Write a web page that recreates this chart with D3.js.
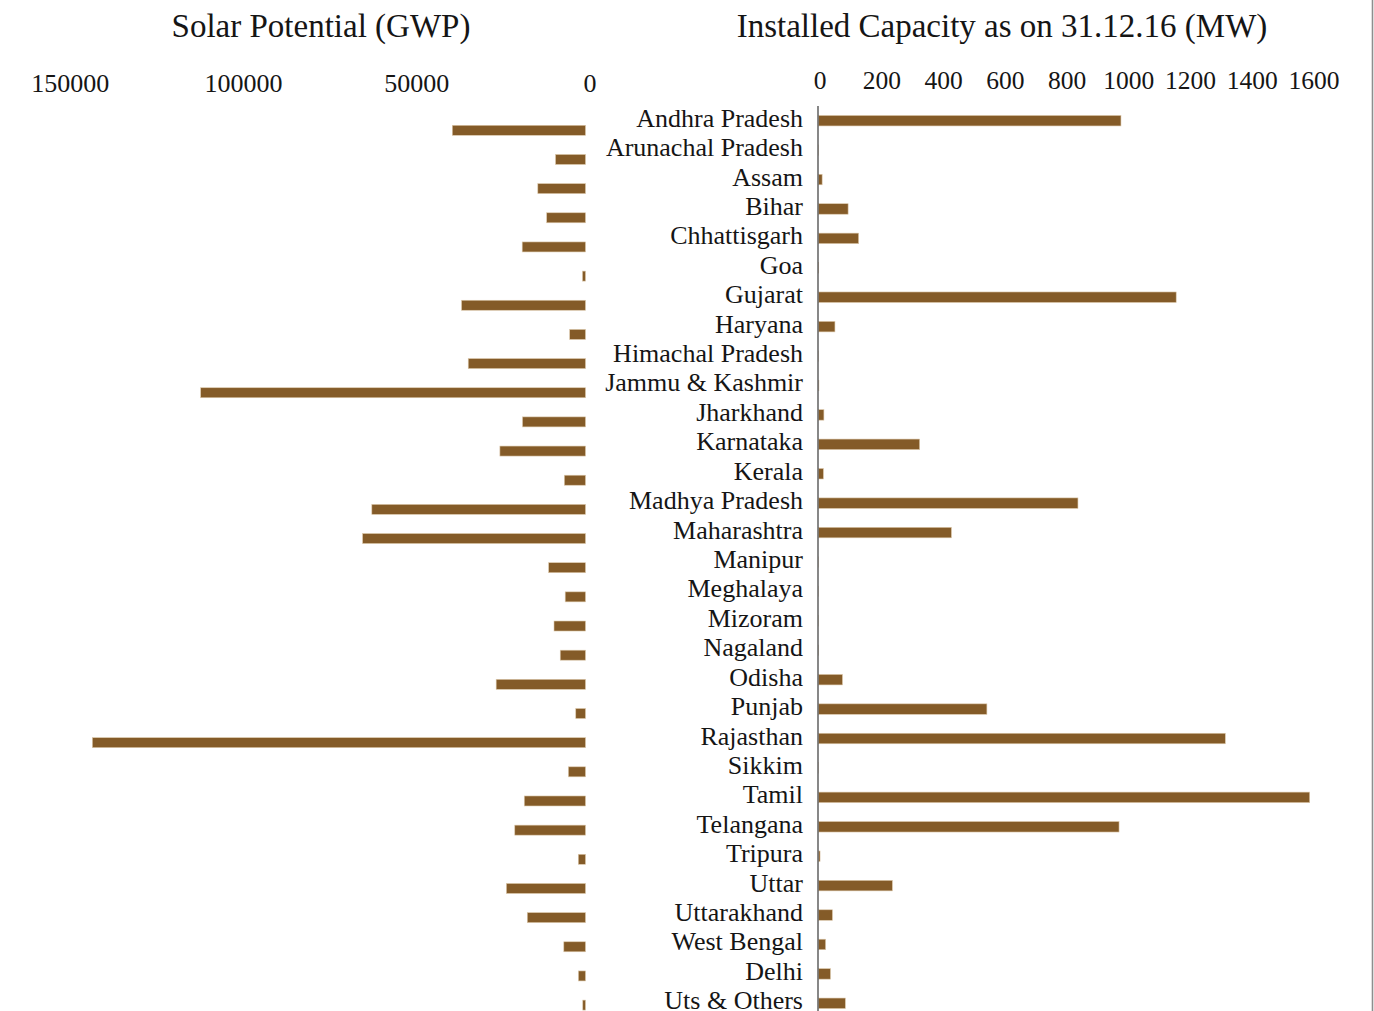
<!DOCTYPE html>
<html>
<head>
<meta charset="utf-8">
<title>Solar Potential and Installed Capacity by State</title>
<script src="https://cdn.jsdelivr.net/npm/d3@7"></script>
<style>
  html, body { margin: 0; padding: 0; background: #fff; }
  svg { display: block; }
  text { font-family: "Liberation Serif", "Times New Roman", serif; fill: #151515; }
</style>
</head>
<body>
<svg id="chart" width="1374" height="1011"></svg>
<script>
// States / union territories, top to bottom
const states = [
  "Andhra Pradesh", "Arunachal Pradesh", "Assam", "Bihar", "Chhattisgarh", "Goa",
  "Gujarat", "Haryana", "Himachal Pradesh", "Jammu & Kashmir", "Jharkhand",
  "Karnataka", "Kerala", "Madhya Pradesh", "Maharashtra", "Manipur", "Meghalaya",
  "Mizoram", "Nagaland", "Odisha", "Punjab", "Rajasthan", "Sikkim", "Tamil",
  "Telangana", "Tripura", "Uttar", "Uttarakhand", "West Bengal", "Delhi", "Uts & Others"
];

// Estimated solar potential (left panel)
const solarPotential = [
  38440, 8650, 13760, 11200, 18270, 880,
  35770, 4560, 33840, 111050, 18180,
  24700, 6110, 61660, 64320, 10630, 5860,
  9090, 7290, 25780, 2810, 142310, 4940, 17670,
  20410, 2080, 22830, 16800, 6260, 2050, 790
];

// Installed capacity as on 31.12.16, MW (right panel)
const installedCapacity = [
  979.65, 0.27, 11.78, 95.91, 130, 0.71,
  1158.5, 53.27, 0.33, 1.36, 17.51,
  327.53, 15.86, 840.35, 430.46, 0.03, 0.01,
  0.1, 0.5, 77.64, 545.43, 1317.64, 0.01, 1590.97,
  973.41, 5.02, 239.26, 45.1, 23.07, 38.78, 87
];

const potentialTicks = [0, 50000, 100000, 150000];
const capacityTicks = [0, 200, 400, 600, 800, 1000, 1200, 1400, 1600];
const panelTitles = ["Solar Potential (GWP)", "Installed Capacity as on 31.12.16 (MW)"];

const barColor = "#845b28";
const barEdge = "#dcc8ab";

const svg = d3.select("#chart");

// ---- scales ----
const xLeft = d3.scaleLinear().domain([0, 150000]).range([585.5, 65.7]);
const xRight = d3.scaleLinear().domain([0, 1600]).range([818.5, 1312.5]);
const yLeft = d3.scalePoint().domain(states).range([130.3, 1005.1]);
const yRight = d3.scalePoint().domain(states).range([120.7, 1003.3]);

const leftData = states.map((s, i) => ({ state: s, value: solarPotential[i] }));
const rightData = states.map((s, i) => ({ state: s, value: installedCapacity[i] }));

// ---- titles ----
svg.append("text")
  .attr("x", 321).attr("y", 37)
  .attr("text-anchor", "middle")
  .style("font-size", "33px")
  .text(panelTitles[0]);

svg.append("text")
  .attr("x", 1002).attr("y", 37)
  .attr("text-anchor", "middle")
  .style("font-size", "33px")
  .text(panelTitles[1]);

// ---- left axis (values grow to the left) ----
const leftAxis = svg.append("g")
  .attr("transform", "translate(0,92)")
  .call(d3.axisTop(xLeft).tickValues(potentialTicks).tickFormat(d3.format("d"))
    .tickSizeInner(0).tickSizeOuter(0).tickPadding(0));
leftAxis.select(".domain").remove();
leftAxis.selectAll("text")
  .attr("dx", 4)
  .attr("fill", "#151515")
  .style("font-size", "26px")
  .style("font-family", "'Liberation Serif', 'Times New Roman', serif");

// ---- right axis ----
const rightAxis = svg.append("g")
  .attr("transform", "translate(0,89)")
  .call(d3.axisTop(xRight).tickValues(capacityTicks).tickFormat(d3.format("d"))
    .tickSizeInner(0).tickSizeOuter(0).tickPadding(0));
rightAxis.select(".domain").remove();
rightAxis.selectAll("text")
  .attr("dx", 1)
  .attr("fill", "#151515")
  .style("font-size", "25.5px")
  .style("font-family", "'Liberation Serif', 'Times New Roman', serif");

// ---- left bars ----
svg.append("g").selectAll("rect")
  .data(leftData)
  .join("rect")
  .attr("x", d => xLeft(d.value))
  .attr("y", d => yLeft(d.state) - 5)
  .attr("width", d => xLeft(0) - xLeft(d.value))
  .attr("height", 10)
  .attr("fill", barColor)
  .attr("stroke", barEdge)
  .attr("stroke-width", 0.6);

// ---- right bars ----
svg.append("g").selectAll("rect")
  .data(rightData)
  .join("rect")
  .attr("x", xRight(0))
  .attr("y", d => yRight(d.state) - 5.25)
  .attr("width", d => xRight(d.value) - xRight(0))
  .attr("height", 10.5)
  .attr("fill", barColor)
  .attr("stroke", barEdge)
  .attr("stroke-width", 0.6);

// ---- category labels ----
svg.append("g").selectAll("text")
  .data(states)
  .join("text")
  .attr("x", 803)
  .attr("y", d => yRight(d) + 6)
  .attr("text-anchor", "end")
  .style("font-size", "26px")
  .text(d => d);

// ---- vertical axis line of the right panel ----
svg.append("line")
  .attr("x1", xRight(0) - 0.5).attr("x2", xRight(0) - 0.5)
  .attr("y1", 106).attr("y2", 1011)
  .attr("stroke", "#555")
  .attr("stroke-width", 1.4);

// ---- frame edge on the right ----
svg.append("line")
  .attr("x1", 1372.5).attr("x2", 1372.5)
  .attr("y1", 0).attr("y2", 1011)
  .attr("stroke", "#8e8e8e")
  .attr("stroke-width", 1.6);
</script>
</body>
</html>
